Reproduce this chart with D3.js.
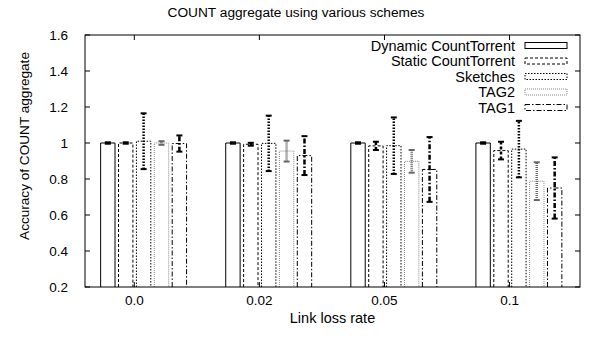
<!DOCTYPE html>
<html>
<head>
<meta charset="utf-8">
<script src="https://cdn.jsdelivr.net/npm/d3@7"></script>
<style>
  body { margin: 0; background: #fff; }
  text { font-family: "Liberation Sans", Arial, sans-serif; fill: #000; }
</style>
</head>
<body>
<div id="chart"></div>
<script>
// data
const rates = ["0.0", "0.02", "0.05", "0.1"];
const schemes = ["Dynamic CountTorrent", "Static CountTorrent", "Sketches", "TAG2", "TAG1"];
const dynamicMean = [1.0, 1.0, 1.0, 1.0];
const dynamicErr = [0.004, 0.004, 0.004, 0.004];
const staticMean = [1.0, 0.993, 0.984, 0.958];
const staticErr = [0.004, 0.008, 0.023, 0.049];
const sketchMean = [1.01, 0.998, 0.985, 0.966];
const sketchErr = [0.155, 0.154, 0.157, 0.157];
const tag2Mean = [1.0, 0.955, 0.898, 0.788];
const tag2Err = [0.01, 0.058, 0.063, 0.105];
const tag1Mean = [0.997, 0.93, 0.853, 0.75];
const tag1Err = [0.045, 0.108, 0.18, 0.17];
const yTicks = [0.2, 0.4, 0.6, 0.8, 1.0, 1.2, 1.4, 1.6];

const means = [dynamicMean, staticMean, sketchMean, tag2Mean, tag1Mean];
const errs = [dynamicErr, staticErr, sketchErr, tag2Err, tag1Err];

// line style per scheme (gnuplot-ish)
const styles = [
  {dash: null, color: "#000", err: "#000"},
  {dash: "3,2", color: "#000", err: "#000"},
  {dash: "1.5,1.5", color: "#000", err: "#000"},
  {dash: "1,1", color: "#888", err: "#666"},
  {dash: "5,2,1.5,2", color: "#000", err: "#000"}
];

const W = 592, H = 339;
const mLeft = 85, mRight = 580, mTop = 35, mBottom = 287;

const svg = d3.select("#chart").append("svg")
  .attr("width", W).attr("height", H);

const x = d3.scaleLinear().domain([-0.394, 3.563]).range([mLeft, mRight]);
const y = d3.scaleLinear().domain([0.2, 1.6]).range([mBottom, mTop]);

// bar offsets inside a cluster, in category units
const barStart = -0.269, barStep = 0.143, barW = 0.115;

// title + labels
svg.append("text").attr("x", 296).attr("y", 17).attr("text-anchor", "middle")
  .style("font-size", "13.7px").text("COUNT aggregate using various schemes");
svg.append("text").attr("x", (mLeft + mRight) / 2).attr("y", 323).attr("text-anchor", "middle")
  .style("font-size", "14.5px").text("Link loss rate");
svg.append("text").attr("transform", "translate(29,146) rotate(-90)").attr("text-anchor", "middle")
  .style("font-size", "13.6px").text("Accuracy of COUNT aggregate");

// y ticks
const yAxisG = svg.append("g");
yTicks.forEach(t => {
  yAxisG.append("text").attr("x", 68).attr("y", y(t) + 5).attr("text-anchor", "end")
    .style("font-size", "13.5px").text(t === 1 ? "1" : d3.format(".1f")(t));
  yAxisG.append("line").attr("x1", mLeft).attr("x2", mLeft + 5).attr("y1", y(t)).attr("y2", y(t))
    .attr("stroke", "#000");
  yAxisG.append("line").attr("x1", mRight).attr("x2", mRight - 5).attr("y1", y(t)).attr("y2", y(t))
    .attr("stroke", "#000");
});

// x ticks
rates.forEach((r, i) => {
  svg.append("text").attr("x", x(i)).attr("y", 305).attr("text-anchor", "middle")
    .style("font-size", "13.5px").text(r);
  svg.append("line").attr("x1", x(i)).attr("x2", x(i)).attr("y1", mBottom).attr("y2", mBottom - 5).attr("stroke", "#000");
  svg.append("line").attr("x1", x(i)).attr("x2", x(i)).attr("y1", mTop).attr("y2", mTop + 5).attr("stroke", "#000");
});

// bars
schemes.forEach((s, j) => {
  const st = styles[j];
  const g = svg.append("g");
  rates.forEach((r, i) => {
    const x0 = x(i + barStart + j * barStep), x1 = x(i + barStart + j * barStep + barW);
    const v = means[j][i];
    g.append("path")
      .attr("d", `M${x0},${y(0.2)}V${y(v)}H${x1}V${y(0.2)}`)
      .attr("fill", "none").attr("stroke", st.color).attr("stroke-width", 1)
      .attr("stroke-dasharray", st.dash);
  });
});

// error bars
schemes.forEach((s, j) => {
  const st = styles[j];
  const g = svg.append("g");
  rates.forEach((r, i) => {
    const xc = x(i + barStart + j * barStep + barW / 2);
    const v = means[j][i], e = errs[j][i];
    g.append("line").attr("x1", xc).attr("x2", xc).attr("y1", y(v - e)).attr("y2", y(v + e))
      .attr("stroke", st.err).attr("stroke-width", 2.5).attr("stroke-dasharray", st.dash);
    [v - e, v + e].forEach(c => {
      g.append("line").attr("x1", xc - 3).attr("x2", xc + 3).attr("y1", y(c)).attr("y2", y(c))
        .attr("stroke", st.err).attr("stroke-width", 2);
    });
  });
});

// legend
const legY = [45.5, 61, 76.5, 92, 107.5];
schemes.forEach((s, j) => {
  const st = styles[j];
  svg.append("text").attr("x", 515).attr("y", legY[j] + 5).attr("text-anchor", "end")
    .style("font-size", "14.5px").text(s);
  svg.append("rect").attr("x", 525).attr("y", legY[j] - 3).attr("width", 42).attr("height", 6)
    .attr("fill", "none").attr("stroke", st.color).attr("stroke-dasharray", st.dash);
});

// frame
svg.append("rect").attr("x", mLeft).attr("y", mTop).attr("width", mRight - mLeft).attr("height", mBottom - mTop)
  .attr("fill", "none").attr("stroke", "#000").attr("stroke-width", 1);
</script>
</body>
</html>
